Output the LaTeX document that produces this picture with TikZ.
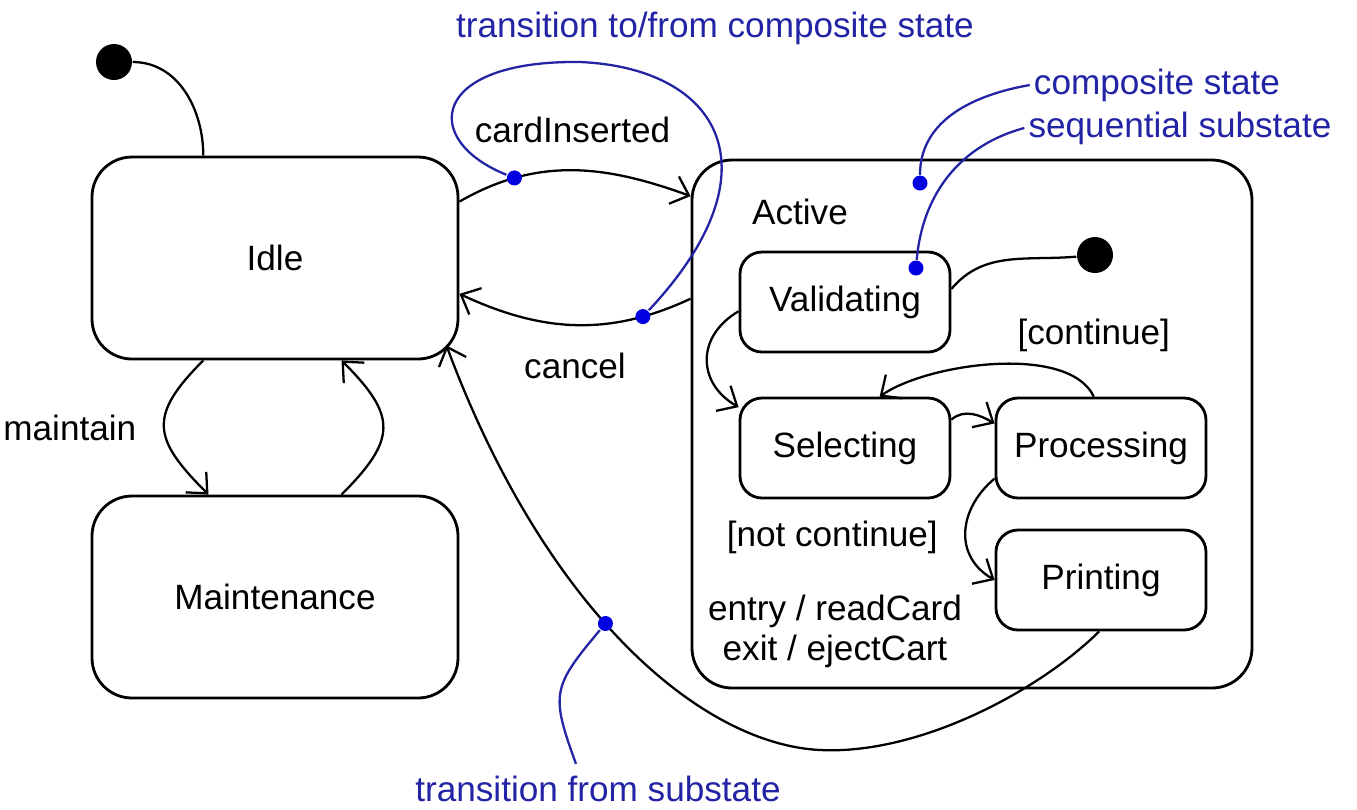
\documentclass[tikz,border=0pt]{standalone}
\usepackage{fontspec}
\setmainfont{Liberation Sans}
\usetikzlibrary{arrows.meta}
\definecolor{notecol}{RGB}{35,35,165}
\definecolor{dotcol}{RGB}{0,0,225}

\begin{document}
\begin{tikzpicture}[
    x=0.1mm, y=-0.1mm,
    font=\fontsize{10}{11.4}\selectfont,
    state/.style={draw, rounded corners=4mm, line width=0.8pt, minimum width=36.6mm, minimum height=20.2mm},
    composite/.style={draw, rounded corners=4mm, line width=0.8pt, minimum width=56mm, minimum height=52.8mm},
    substate/.style={draw, rounded corners=2.2mm, line width=0.8pt, minimum width=21mm, minimum height=10mm},
    initial/.style={circle, fill=black, minimum size=3.6mm, inner sep=0pt},
    plain/.style={line width=0.65pt},
    trans/.style={->, line width=0.65pt, >={Straight Barb[length=1.6mm,width=2.9mm]}},
    noteline/.style={draw=notecol, line width=0.65pt},
    notetext/.style={text=notecol, inner sep=1pt},
    dot/.style={circle, fill=dotcol, minimum size=1.5mm, inner sep=0pt}
]
\useasboundingbox (0,0) rectangle (1357,809);

\node[initial] (start) at (114,62) {};
\node[state] (idle)  at (275,258) {Idle};
\node[state] (maint) at (275,597) {Maintenance};

% composite state with its substates
\node[composite] (active) at (972,424) {};
\node (activename) at (800,212) {Active};
\node[initial] (substart) at (1095,255) {};
\node[substate] (valid)  at (845,302)  {Validating};
\node[substate] (select) at (845,448)  {Selecting};
\node[substate] (proc)   at (1101,448) {Processing};
\node[substate] (print)  at (1101,580) {Printing};
\node[align=center] (actions) at (835,631) {entry / readCard\\exit / ejectCart};

\draw[plain] (start) to[out=0,in=90] (idle.125);
\draw[trans] (idle.235) to[out=225,in=135,looseness=1.5] node[left=1.5mm] {maintain} (maint.123);
\draw[trans] (maint.57) to[out=45,in=-45,looseness=1.5] (idle.303);

\draw[trans] (idle.17) to[out=30,in=160] node[dot,pos=.24] (d1) {} node[above=1.5mm] {cardInserted} (active.141);
\draw[trans] (active.156) to[out=205,in=-25] node[dot,pos=.2] (d2) {} node[below=1.5mm] {cancel} (idle.-11);

\draw[plain] (substart) to[out=185,in=50] (valid.7);
\draw[trans] (valid.185) to[out=210,in=150,looseness=1.3] (select.159);
\draw[trans] (select.15) to[out=40,in=150] (proc.167);
\draw[trans] (proc.98) to[out=115,in=35,looseness=.7] node[pos=0,above=3.2mm] {[continue]} (select.56);
\draw[trans] (proc.196) to[out=220,in=150,looseness=1.2] node[left=1.5mm,pos=.55] {[not continue]} (print.180);

% transition from substate back to Idle
\draw[trans] (print.268) .. controls (1040,690) and (920,755) .. (820,750)
    .. controls (700,744) and (545,610) .. ([xshift=-1.3mm,yshift=1.5mm]idle.south east)
    node[dot,pos=.55] (d5) {};

% notes
\node[notetext] (note1) at (715,28)  {transition to/from composite state};
\node[notetext] (note2) at (1157,85) {composite state};
\node[notetext] (note3) at (1180,128) {sequential substate};
\node[notetext] (note4) at (598,789) {transition from substate};
\node[dot] (d3) at (920,183) {};
\node[dot] (d4) at (916,268) {};
\coordinate (looptop) at (580,62);

\draw[noteline] (d1) .. controls (420,140) and (430,60) .. (looptop)
    .. controls (720,68) and (780,170) .. (d2);
\draw[noteline] (note2.west) to[out=190,in=90] (d3);
\draw[noteline] (note3.west) to[out=195,in=85] (d4);
\draw[noteline] ([xshift=-2.2mm,yshift=0.8mm]note4.north) to[out=110,in=230,looseness=1.4] (d5);

\end{tikzpicture}
\end{document}
